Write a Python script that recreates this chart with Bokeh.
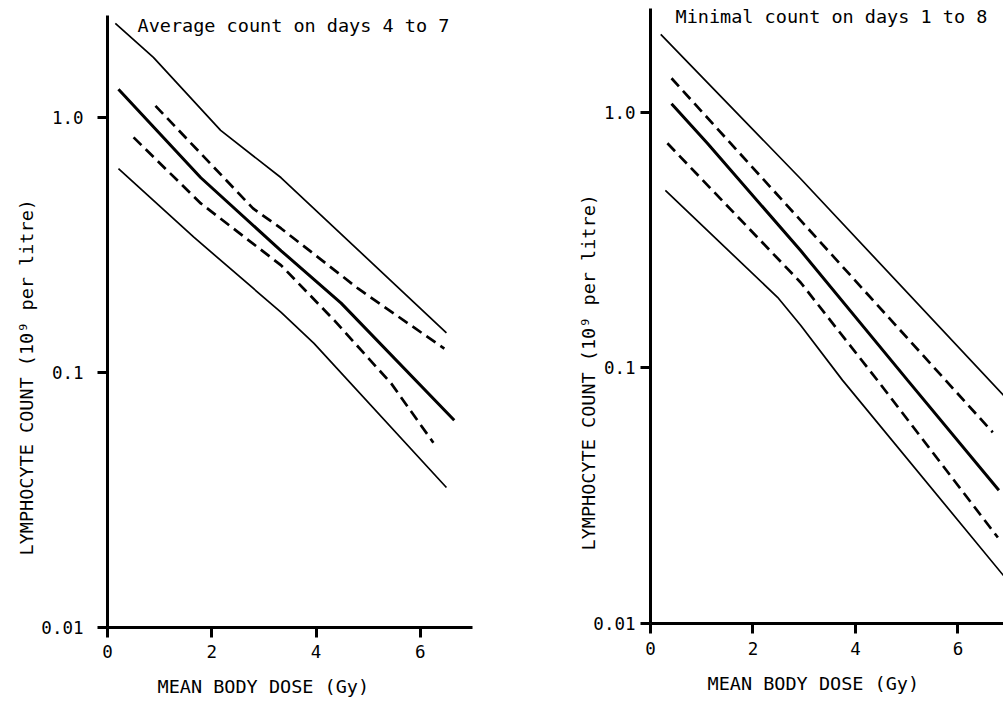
import math
from bokeh.plotting import figure
from bokeh.layouts import row, column
from bokeh.models import FixedTicker, Range1d, Label, Title
from bokeh.embed import file_html
from bokeh.resources import INLINE

FONT = "DejaVu Sans Mono"

# ---- shared axis texts / ticks ----
x_ticks = [0, 2, 4, 6]
y_ticks = [0.01, 0.1, 1.0]
y_tick_labels = ["0.01", "0.1", "1.0"]
x_axis_label = "MEAN BODY DOSE (Gy)"
y_axis_label = "LYMPHOCYTE COUNT (10\u2079 per litre)"

# ---- left panel: Average count on days 4 to 7 ----
left_title = "Average count on days 4 to 7"
left_upper_x = [0.15, 0.88, 2.17, 3.33, 6.5]
left_upper_y = [2.34, 1.72, 0.89, 0.58, 0.143]
left_upper_dash_x = [0.92, 2.79, 3.33, 4.81, 6.46]
left_upper_dash_y = [1.11, 0.44, 0.367, 0.213, 0.124]
left_mid_x = [0.21, 1.79, 3.33, 4.48, 6.65]
left_mid_y = [1.29, 0.58, 0.30, 0.187, 0.065]
left_lower_dash_x = [0.5, 1.79, 3.33, 4.35, 5.44, 6.25]
left_lower_dash_y = [0.835, 0.46, 0.263, 0.16, 0.0906, 0.053]
left_lower_x = [0.21, 1.65, 3.33, 3.96, 6.5]
left_lower_y = [0.63, 0.34, 0.172, 0.13, 0.0354]

# ---- right panel: Minimal count on days 1 to 8 ----
right_title = "Minimal count on days 1 to 8"
right_upper_x = [0.2, 2.93, 6.93]
right_upper_y = [2.02, 0.55, 0.0767]
right_upper_dash_x = [0.41, 2.93, 6.68]
right_upper_dash_y = [1.36, 0.378, 0.056]
right_mid_x = [0.41, 1.11, 2.93, 5.02, 6.8]
right_mid_y = [1.08, 0.757, 0.288, 0.0894, 0.0332]
right_lower_dash_x = [0.33, 2.93, 4.43, 6.78]
right_lower_dash_y = [0.757, 0.216, 0.0894, 0.0217]
right_lower_x = [0.29, 2.48, 2.93, 3.75, 6.89]
right_lower_y = [0.495, 0.189, 0.147, 0.0894, 0.0154]

STYLES = {
    "thin": dict(line_width=1.7, line_dash="solid"),
    "thick": dict(line_width=3.0, line_dash="solid"),
    "dash": dict(line_width=2.7, line_dash="11 6"),
}

left_curves = [
    (left_upper_x, left_upper_y, "thin"),
    (left_upper_dash_x, left_upper_dash_y, "dash"),
    (left_mid_x, left_mid_y, "thick"),
    (left_lower_dash_x, left_lower_dash_y, "dash"),
    (left_lower_x, left_lower_y, "thin"),
]
right_curves = [
    (right_upper_x, right_upper_y, "thin"),
    (right_upper_dash_x, right_upper_dash_y, "dash"),
    (right_mid_x, right_mid_y, "thick"),
    (right_lower_dash_x, right_lower_dash_y, "dash"),
    (right_lower_x, right_lower_y, "thin"),
]


def make_panel(title, curves, width, height, x_end, y_end, borders,
               y_standoff, x_standoff, title_pos, xlab_offset, ylab_offset,
               ylab_standoff):
    p = figure(width=width, height=height, x_axis_type="linear", y_axis_type="log",
               x_range=Range1d(0, x_end), y_range=Range1d(0.01, y_end),
               output_backend="svg", toolbar_location=None,
               min_border_left=borders[0], min_border_right=borders[1],
               min_border_top=borders[2], min_border_bottom=borders[3])
    p.outline_line_color = None
    p.background_fill_color = "white"
    p.border_fill_color = "white"
    p.xgrid.grid_line_color = None
    p.ygrid.grid_line_color = None

    for ax in (p.xaxis[0], p.yaxis[0]):
        ax.axis_line_width = 3
        ax.axis_line_color = "black"
        ax.major_tick_line_width = 3
        ax.major_tick_line_color = "black"
        ax.major_tick_in = 0
        ax.major_tick_out = 10
        ax.minor_tick_line_color = None
        ax.major_label_text_font = FONT
        ax.major_label_text_font_size = "17.5px"
        ax.major_label_text_color = "black"

    p.xaxis.ticker = FixedTicker(ticks=x_ticks)
    p.yaxis.ticker = FixedTicker(ticks=y_ticks)
    p.yaxis.major_label_overrides = dict(zip(y_ticks, y_tick_labels))
    p.yaxis.major_label_standoff = y_standoff
    p.xaxis.major_label_standoff = x_standoff

    for xs, ys, kind in curves:
        p.line(xs, ys, line_color="black", **STYLES[kind])

    p.add_layout(Label(x=title_pos[0], y=title_pos[1], x_units="screen", y_units="screen",
                       text=title, text_font=FONT, text_font_size="18.5px",
                       text_align="left", text_baseline="alphabetic", text_color="black"))
    p.add_layout(Title(text=x_axis_label, align="left", offset=xlab_offset,
                       vertical_align="top",
                       text_font=FONT, text_font_size="18.5px", text_font_style="normal",
                       text_color="black", standoff=31), "below")
    p.add_layout(Title(text=y_axis_label, align="left", offset=ylab_offset,
                       text_font=FONT, text_font_size="18.5px", text_font_style="normal",
                       text_color="black", standoff=ylab_standoff), "left")
    return p


p1 = make_panel(left_title, left_curves, 560, 719, 7.0, 2.51,
                (107, 88, 15, 92), 14, 7, (30, 602), 50, 72, 3)
p2 = make_panel(right_title, right_curves, 443, 715, 6.89, 2.55,
                (90, 0, 8, 92), 5, 8, (25, 607), 57, 73, -16)

layout = row(column(p1), column(p2), width=1003, height=702,
             styles={"overflow": "hidden"})
open("out.html", "w").write(file_html(layout, INLINE))
